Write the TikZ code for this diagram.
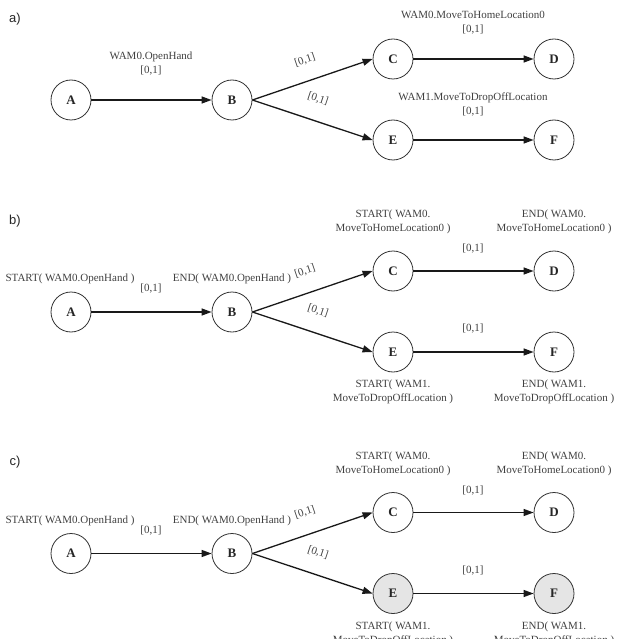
\documentclass[tikz,border=0pt]{standalone}
\usepackage{fontspec}
\setmainfont{Liberation Serif}
\newfontfamily\panelfont{Liberation Sans}
\usetikzlibrary{arrows.meta}
\begin{document}
\begin{tikzpicture}[x=1pt,y=-1pt,
  state/.style={circle,draw=black!80,line width=0.8pt,minimum size=40pt,inner sep=0pt,
    font=\fontsize{13}{13}\selectfont\bfseries,text=black!85},
  done/.style={state,fill=black!10},
  conn/.style={line width=1.3pt,draw=black!90,-{Triangle[length=10pt,width=7pt]}},
  lbl/.style={font=\fontsize{11}{14}\selectfont,text=black!75,align=center,inner sep=0pt},
  panel/.style={font=\panelfont\fontsize{13}{13}\selectfont,text=black!85,inner sep=0pt}]
\useasboundingbox (0,0) rectangle (619,639);
\clip (0,0) rectangle (619,639);

% ---------------- panel a ----------------
\node[panel] (pa) at (15,19) {a)};
\node[state] (aA) at (71,100) {A};
\node[state] (aB) at (232,100) {B};
\node[state] (aC) at (393,59) {C};
\node[state] (aD) at (554,59) {D};
\node[state] (aE) at (393,140) {E};
\node[state] (aF) at (554,140) {F};
\draw[conn] (aA) -- (aB);
\draw[conn] (aB.east) -- (aC.west);
\draw[conn] (aB.east) -- (aE.west);
\draw[conn] (aC) -- (aD);
\draw[conn] (aE) -- (aF);
\node[lbl] (aAB) at (151,64) {WAM0.OpenHand\\{}[0,1]};
\node[lbl,rotate=18.7] (aBC) at (305,60) {[0,1]};
\node[lbl,rotate=-18.3] (aBE) at (318,99) {[0,1]};
\node[lbl] (aCD) at (473,23) {WAM0.MoveToHomeLocation0\\{}[0,1]};
\node[lbl] (aEF) at (473,104) {WAM1.MoveToDropOffLocation\\{}[0,1]};

% ---------------- panel b ----------------
\node[panel] (pb) at (15,221) {b)};
\node[state] (bA) at (71,312) {A};
\node[state] (bB) at (232,312) {B};
\node[state] (bC) at (393,271) {C};
\node[state] (bD) at (554,271) {D};
\node[state] (bE) at (393,352) {E};
\node[state] (bF) at (554,352) {F};
\draw[conn] (bA) -- (bB);
\draw[conn] (bB.east) -- (bC.west);
\draw[conn] (bB.east) -- (bE.west);
\draw[conn] (bC) -- (bD);
\draw[conn] (bE) -- (bF);
\node[lbl] (bAl) at (70,279) {START( WAM0.OpenHand )};
\node[lbl] (bBl) at (232,279) {END( WAM0.OpenHand )};
\node[lbl] (bCl) at (393,222) {START( WAM0.\\MoveToHomeLocation0 )};
\node[lbl] (bDl) at (554,222) {END( WAM0.\\MoveToHomeLocation0 )};
\node[lbl] (bEl) at (393,392) {START( WAM1.\\MoveToDropOffLocation )};
\node[lbl] (bFl) at (554,392) {END( WAM1.\\MoveToDropOffLocation )};
\node[lbl] (bAB) at (151,289) {[0,1]};
\node[lbl,rotate=18.7] (bBC) at (305,271) {[0,1]};
\node[lbl,rotate=-18.3] (bBE) at (318,311) {[0,1]};
\node[lbl] (bCD) at (473,249) {[0,1]};
\node[lbl] (bEF) at (473,329) {[0,1]};

% ---------------- panel c ----------------
\begin{scope}[yshift=-241.5pt]
\node[panel] (pc) at (15,221) {c)};
\node[state] (cA) at (71,312) {A};
\node[state] (cB) at (232,312) {B};
\node[state] (cC) at (393,271) {C};
\node[state] (cD) at (554,271) {D};
\node[done] (cE) at (393,352) {E};
\node[done] (cF) at (554,352) {F};
\draw[conn] (cA) -- (cB);
\draw[conn] (cB.east) -- (cC.west);
\draw[conn] (cB.east) -- (cE.west);
\draw[conn] (cC) -- (cD);
\draw[conn] (cE) -- (cF);
\node[lbl] (cAl) at (70,279) {START( WAM0.OpenHand )};
\node[lbl] (cBl) at (232,279) {END( WAM0.OpenHand )};
\node[lbl] (cCl) at (393,222) {START( WAM0.\\MoveToHomeLocation0 )};
\node[lbl] (cDl) at (554,222) {END( WAM0.\\MoveToHomeLocation0 )};
\node[lbl] (cEl) at (393,392) {START( WAM1.\\MoveToDropOffLocation )};
\node[lbl] (cFl) at (554,392) {END( WAM1.\\MoveToDropOffLocation )};
\node[lbl] (cAB) at (151,289) {[0,1]};
\node[lbl,rotate=18.7] (cBC) at (305,271) {[0,1]};
\node[lbl,rotate=-18.3] (cBE) at (318,311) {[0,1]};
\node[lbl] (cCD) at (473,249) {[0,1]};
\node[lbl] (cEF) at (473,329) {[0,1]};
\end{scope}
\end{tikzpicture}
\end{document}
